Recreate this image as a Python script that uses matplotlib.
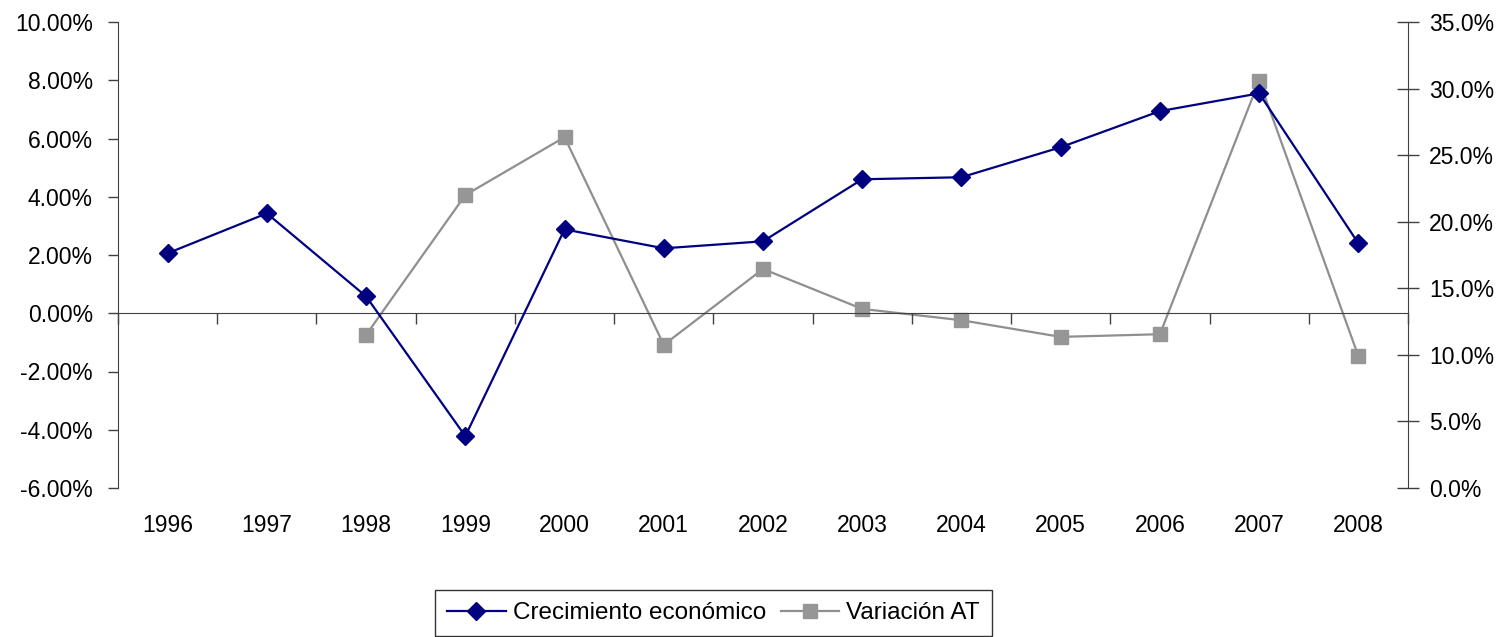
import matplotlib
matplotlib.use("Agg")
import matplotlib.pyplot as plt
from matplotlib.ticker import FuncFormatter
import numpy as np

plt.rcParams['font.family'] = ['Liberation Sans', 'DejaVu Sans']

years = ['1996', '1997', '1998', '1999', '2000', '2001', '2002',
         '2003', '2004', '2005', '2006', '2007', '2008']
crecimiento = [2.06, 3.43, 0.58, -4.22, 2.88, 2.23, 2.47,
               4.60, 4.67, 5.70, 6.94, 7.55, 2.40]
variacion_at = [np.nan, np.nan, 11.5, 22.0, 26.35, 10.75, 16.45,
                13.45, 12.6, 11.35, 11.55, 30.6, 9.9]

W, H = 1505, 637
fig = plt.figure(figsize=(W / 100, H / 100), dpi=100)
left, right, top, bottom = 118, 1408, 22, 488
ax = fig.add_axes([left / W, 1 - bottom / H, (right - left) / W, (bottom - top) / H])
ax2 = ax.twinx()

x = np.arange(len(years))
FS = 16.5
axis_col = '#404040'

l1, = ax.plot(x, crecimiento, color='#000080', lw=1.6, marker='D', ms=9.5,
              label='Crecimiento económico', zorder=3)
l2, = ax2.plot(x, variacion_at, color='#8f8f8f', lw=1.6, marker='s', ms=9.5,
               markerfacecolor='#969696', markeredgecolor='#969696',
               label='Variación AT', zorder=3)

ax.set_zorder(ax2.get_zorder() + 1)
ax.patch.set_visible(False)

ax.set_xlim(-0.5, len(years) - 0.5)
ax.set_ylim(-6, 10)
ax.set_yticks(np.arange(-6, 10.01, 2))
ax.yaxis.set_major_formatter(FuncFormatter(lambda v, p: f'{v:.2f}%'))
ax.tick_params(axis='y', direction='out', length=7, width=1, color=axis_col,
               labelsize=FS, pad=11)

ax2.set_ylim(0, 35)
ax2.set_yticks(np.arange(0, 35.01, 5))
ax2.yaxis.set_major_formatter(FuncFormatter(lambda v, p: f'{v:.1f}%'))
ax2.tick_params(axis='y', direction='inout', length=16, width=1, color=axis_col,
                labelsize=FS, pad=7)

for a in (ax, ax2):
    a.spines['top'].set_visible(False)
ax2.spines['left'].set_visible(False)
ax2.spines['bottom'].set_visible(False)
ax.spines['right'].set_visible(False)
ax.spines['left'].set_color(axis_col)
ax2.spines['right'].set_color(axis_col)

# category axis crossing at zero
ax.spines['bottom'].set_position(('data', 0))
ax.spines['bottom'].set_color(axis_col)
ax.set_xticks(np.arange(-0.5, len(years), 1.0))
ax.set_xticklabels([])
ax.tick_params(axis='x', direction='out', length=8, width=1, color=axis_col)

sec = ax.secondary_xaxis(0)
sec.set_xticks(x)
sec.set_xticklabels(years)
sec.tick_params(axis='x', length=0, labelsize=FS, pad=19)
sec.spines['bottom'].set_visible(False)

leg = fig.legend(handles=[l1, l2], loc='upper center',
                 bbox_to_anchor=(713.5 / W, 1 - 590 / H), ncol=2,
                 fontsize=17.5, frameon=True, fancybox=False, edgecolor='#000000',
                 handlelength=2.4, handletextpad=0.3, columnspacing=0.6,
                 borderpad=0.5, borderaxespad=0)
leg.get_frame().set_linewidth(1)

fig.savefig('out.png', dpi=100)
